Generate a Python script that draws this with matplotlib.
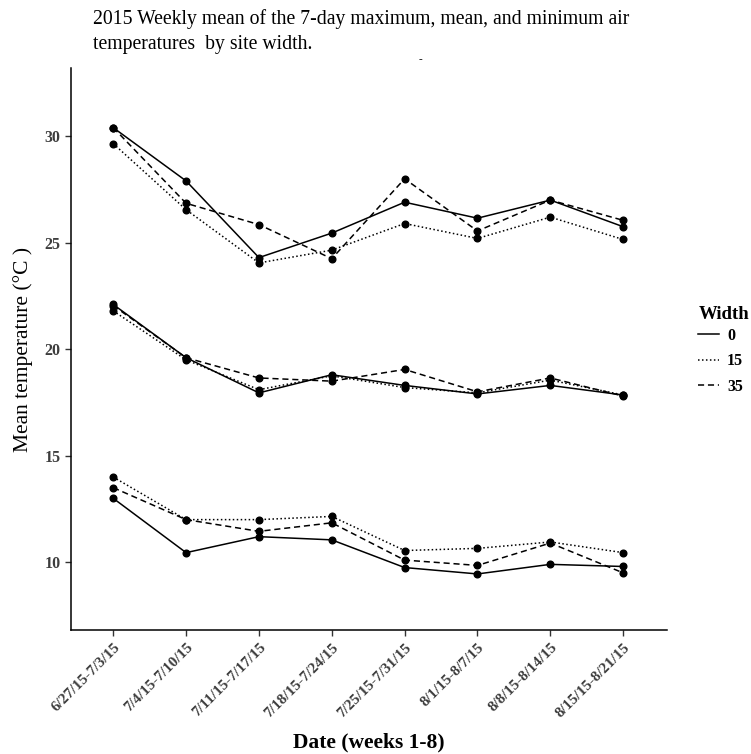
import matplotlib.pyplot as plt
from matplotlib.lines import Line2D

# weekly windows (weeks 1-8)
dates = ['6/27/15-7/3/15', '7/4/15-7/10/15', '7/11/15-7/17/15', '7/18/15-7/24/15',
         '7/25/15-7/31/15', '8/1/15-8/7/15', '8/8/15-8/14/15', '8/15/15-8/21/15']
widths = ['0', '15', '35']

# 7-day maximum
max_0 = [30.4, 27.9, 24.3, 25.45, 26.9, 26.15, 27.0, 25.75]
max_15 = [29.65, 26.55, 24.05, 24.65, 25.9, 25.2, 26.2, 25.15]
max_35 = [30.4, 26.85, 25.85, 24.25, 28.0, 25.55, 27.0, 26.05]

# 7-day mean
mean_0 = [22.1, 19.6, 17.95, 18.8, 18.3, 17.9, 18.3, 17.85]
mean_15 = [21.8, 19.5, 18.1, 18.75, 18.2, 17.95, 18.55, 17.85]
mean_35 = [22.05, 19.6, 18.65, 18.5, 19.05, 18.0, 18.65, 17.8]

# 7-day minimum
min_0 = [13.0, 10.45, 11.2, 11.05, 9.75, 9.45, 9.9, 9.8]
min_15 = [14.0, 12.0, 12.0, 12.15, 10.55, 10.65, 10.95, 10.45]
min_35 = [13.5, 12.0, 11.45, 11.85, 10.1, 9.85, 10.9, 9.5]

series = {
    '0': [max_0, mean_0, min_0],
    '15': [max_15, mean_15, min_15],
    '35': [max_35, mean_35, min_35],
}
styles = {'0': '-', '15': (0, (1, 1.6)), '35': (0, (4, 2.5))}

plt.rcParams['font.family'] = 'Liberation Serif'

fig = plt.figure(figsize=(7.51, 7.54), dpi=100)
ax = fig.add_axes([0.0945, 0.1645, 0.7935, 0.7453])

x = list(range(1, len(dates) + 1))
for w in widths:
    for vals in series[w]:
        ax.plot(x, vals, color='black', linestyle=styles[w], linewidth=1.1,
                marker='o', markersize=4.8)

ax.set_xlim(0.42, 8.6)
ax.set_ylim(6.82, 33.2)
ax.set_xticks(x)
ax.set_xticklabels(dates, rotation=45, ha='right', rotation_mode='anchor',
                   fontsize=11, fontweight='bold', color='#3d3d3d')
ax.set_yticks([10, 15, 20, 25, 30])
ax.set_yticklabels(['10', '15', '20', '25', '30'], fontsize=11.5,
                   fontweight='bold', color='#3d3d3d')
ax.tick_params(axis='both', length=4, color='#333333', width=1)
ax.tick_params(axis='x', pad=4)
for s in ['top', 'right']:
    ax.spines[s].set_visible(False)
for s in ['left', 'bottom']:
    ax.spines[s].set_linewidth(1.1)

ax.set_ylabel('Mean temperature (°C )', fontsize=15.5, labelpad=8)
ax.set_xlabel('Date (weeks 1-8)', fontsize=15.5, fontweight='bold', labelpad=9)

fig.text(93 / 751, 1 - 9 / 754,
         '2015 Weekly mean of the 7-day maximum, mean, and minimum air\n'
         'temperatures  by site width.',
         ha='left', va='top', fontsize=14.2, linespacing=1.4)
fig.text(420 / 751, 1 - 60 / 754, '-', ha='center', va='center', fontsize=8)

handles = [Line2D([], [], color='black', linestyle=styles[w], linewidth=1.1)
           for w in widths]
leg = fig.legend(handles, widths, title='Width', loc='upper left',
                 bbox_to_anchor=(684 / 751, 1 - 292 / 754), frameon=False,
                 handlelength=1.3, handletextpad=0.5, labelspacing=0.6,
                 prop={'weight': 'bold', 'size': 11.5})
leg.get_title().set_fontweight('bold')
leg.get_title().set_fontsize(13.5)
leg._legend_box.align = 'left'
leg._legend_box.sep = 3

fig.savefig('out.png', dpi=100)
